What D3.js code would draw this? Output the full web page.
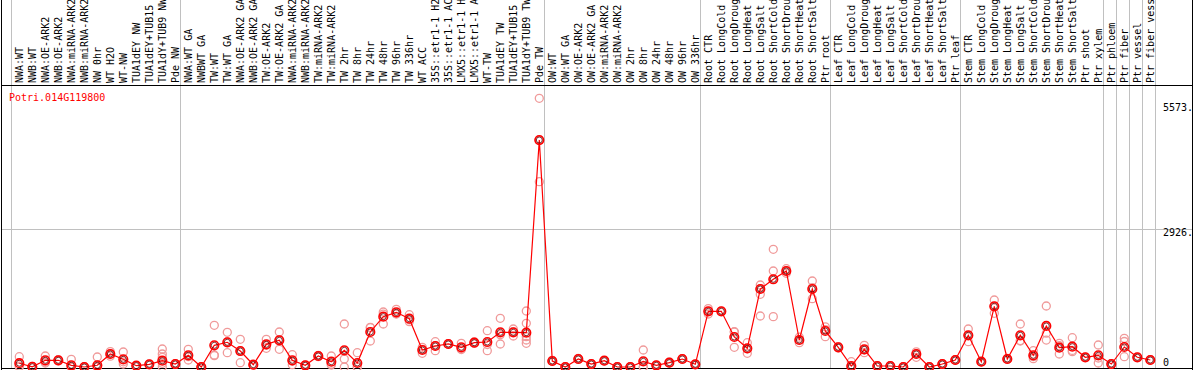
<!DOCTYPE html>
<html>
<head>
<meta charset="utf-8">
<script src="https://d3js.org/d3.v7.min.js"></script>
<style>
  body { margin: 0; background: #fff; }
  svg text { font-family: "DejaVu Sans Mono", monospace; font-size: 10px; }
</style>
</head>
<body>
<div class="container"></div>
<script>
const title = "Potri.014G119800";

const samples = [
  "NWA:WT", "NWB:WT", "NWA:OE-ARK2", "NWB:OE-ARK2", "NWA:miRNA-ARK2", "NWB:miRNA-ARK2",
  "NW 0hr", "WT H2O", "WT-NW", "TUA1dEY NW", "TUA1dEY+TUB15", "TUA1dY+TUB9 NW", "Pde NW",
  "NWA:WT GA", "NWBWT GA", "TW:WT", "TW:WT GA", "NWA:OE-ARK2 GA", "NWB:OE-ARK2 GA",
  "TW:OE-ARK2", "TW:OE-ARK2 GA", "NWA:miRNA-ARK2", "NWB:miRNA-ARK2", "TW:miRNA-ARK2",
  "TW:miRNA-ARK2", "TW 2hr", "TW 8hr", "TW 24hr", "TW 48hr", "TW 96hr", "TW 336hr", "WT ACC",
  "35S::etr1-1 H2O", "35S::etr1-1 ACC", "LMX5::etr1-1 H2O", "LMX5::etr1-1 ACC", "WT-TW",
  "TUA1dEY TW", "TUA1dEY+TUB15", "TUA1dY+TUB9 TW", "Pde TW",
  "OW:WT", "OW:WT GA", "OW:OE-ARK2", "OW:OE-ARK2 GA", "OW:miRNA-ARK2", "OW:miRNA-ARK2",
  "OW 2hr", "OW 8hr", "OW 24hr", "OW 48hr", "OW 96hr", "OW 336hr",
  "Root CTR", "Root LongCold", "Root LongDrought", "Root LongHeat", "Root LongSalt",
  "Root ShortCold", "Root ShortDrought", "Root ShortHeat", "Root ShortSalt", "Ptr root",
  "Leaf CTR", "Leaf LongCold", "Leaf LongDrought", "Leaf LongHeat", "Leaf LongSalt",
  "Leaf ShortCold", "Leaf ShortDrought", "Leaf ShortHeat", "Leaf ShortSalt", "Ptr leaf",
  "Stem CTR", "Stem LongCold", "Stem LongDrought", "Stem LongHeat", "Stem LongSalt",
  "Stem ShortCold", "Stem ShortDrought", "Stem ShortHeat", "Stem ShortSalt", "Ptr shoot",
  "Ptr xylem", "Ptr phloem", "Ptr fiber", "Ptr vessel", "Ptr fiber vessel"
];

// number of samples in each group (gray separators)
const groupSizes = [13, 28, 12, 10, 10, 11, 1, 1, 1, 1];

const means = [
  80, 5, 142, 142, 36, 0, 36, 275, 163, 28, 57, 133, 63,
  247, 0, 459, 523, 338, 49, 480, 565, 142, 36, 233, 112, 353, 85, 741, 1065, 1157, 1022,
  360, 444, 487, 417, 514, 529, 734, 734, 726, 4802,
  127, 0, 169, 63, 133, 0, 0, 120, 36, 91, 169, 57,
  1178, 1178, 635, 396, 1650, 1856, 2031, 571, 1650, 762,
  417, 21, 374, 21, 21, 0, 275, 0, 63, 148,
  671, 112, 1284, 169, 671, 247, 868, 409, 430, 205, 247,
  63, 423, 205, 148
];

const replicates = [
  [218, 20, 0], [0, 0, 15], [233, 85, 106], [150, 130, 145], [163, 0, 0], [0, 0, 0],
  [212, 0, 0], [325, 275, 230], [317, 63, 110], [30, 25, 30], [60, 55, 57],
  [381, 275, 205, 78, 6], [70, 60, 60],
  [374, 148, 220], [0, 0, 0], [882, 254, 240], [734, 303, 530], [586, 91, 338], [50, 45, 50],
  [586, 396, 460], [741, 374, 580], [260, 49, 120], [40, 30, 36], [233, 220, 245], [233, 42, 60],
  [910, 169, 0], [303, 0, 0], [832, 550, 840], [1164, 910, 1120], [1221, 1130, 1120],
  [1107, 1000, 960], [417, 290, 370], [535, 345, 450], [490, 480, 490], [501, 380, 370],
  [530, 510, 500], [768, 345, 475], [1030, 487, 685], [804, 656, 740],
  [1185, 925, 641, 571, 501], [5685, 4800, 3921],
  [140, 120, 120], [0, 0, 0], [180, 160, 170], [63, 60, 65], [133, 130, 135], [0, 0, 0],
  [0, 0, 0], [360, 0, 0], [36, 36, 36], [100, 85, 90], [175, 165, 170], [57, 57, 57],
  [1121, 1178, 1235], [1178, 1178, 1178], [747, 417, 740], [514, 290, 385],
  [1735, 1650, 1538, 1079], [2490, 2031, 1065], [2031, 1983, 2080], [514, 571, 630],
  [1820, 1445, 1680], [641, 790, 850],
  [430, 417, 405], [112, 0, 0], [459, 303, 360], [21, 21, 21], [21, 21, 21], [0, 0, 0],
  [320, 275, 205], [0, 0, 0], [63, 63, 63], [148, 148, 148],
  [804, 671, 535], [112, 112, 112], [1418, 1284, 1136], [180, 169, 160], [910, 550, 560],
  [345, 176, 220], [1291, 715, 570], [501, 275, 450], [620, 324, 350], [205, 205, 205],
  [465, 85, 190],
  [63, 63, 63], [607, 540, 218], [205, 205, 205], [148, 148, 148]
];

const tickValues = [5573, 2926, 0];
const tickLabels = ["5573.", "2926.", "0"];
const gridValues = [2926];

const w = 1194;
const h = 370;
const headerBottom = 85;
const plotBottom = 369;

const svg = d3.select(".container")
  .append("svg")
  .attr("width", w)
  .attr("height", h);

const xScale = d3.scaleBand()
  .domain(d3.range(samples.length))
  .range([11, 1155])
  .paddingInner(0)
  .paddingOuter(0);

const yScale = d3.scaleLinear()
  .domain([0, 2926])
  .range([367, 228.7]);

const cx = (i) => xScale(i) + 8.3;

// horizontal grid
svg.selectAll("line.grid")
  .data(gridValues)
  .enter()
  .append("line")
  .attr("class", "grid")
  .attr("x1", 1)
  .attr("x2", w - 1)
  .attr("y1", (d) => Math.round(yScale(d)) + 0.5)
  .attr("y2", (d) => Math.round(yScale(d)) + 0.5)
  .attr("stroke", "#c0c0c0")
  .attr("stroke-width", 1);

// group separators
let bounds = [0];
groupSizes.forEach((s) => bounds.push(bounds[bounds.length - 1] + s));
svg.selectAll("line.sep")
  .data(bounds)
  .enter()
  .append("line")
  .attr("class", "sep")
  .attr("x1", (d) => Math.round(d === samples.length ? 1155 : xScale(d)) + 0.5)
  .attr("x2", (d) => Math.round(d === samples.length ? 1155 : xScale(d)) + 0.5)
  .attr("y1", 0)
  .attr("y2", plotBottom)
  .attr("stroke", "#c0c0c0")
  .attr("stroke-width", 1);

// frame
svg.append("line").attr("x1", 1.5).attr("x2", 1.5).attr("y1", 0).attr("y2", plotBottom + 1)
  .attr("stroke", "#000");
svg.append("line").attr("x1", w - 1.5).attr("x2", w - 1.5).attr("y1", 0).attr("y2", plotBottom + 1)
  .attr("stroke", "#000");
svg.append("line").attr("x1", 1).attr("x2", w - 1).attr("y1", headerBottom + 0.5).attr("y2", headerBottom + 0.5)
  .attr("stroke", "#000");
svg.append("line").attr("x1", 1).attr("x2", w - 1).attr("y1", plotBottom - 0.5).attr("y2", plotBottom - 0.5)
  .attr("stroke", "#000");

// header labels
svg.selectAll("text.sample")
  .data(samples)
  .enter()
  .append("text")
  .attr("class", "sample")
  .attr("transform", (d, i) => "translate(" + (cx(i) + 3.6) + "," + 83 + ") rotate(-90)")
  .attr("fill", "#000")
  .text((d) => d);

// title
svg.append("text")
  .attr("x", 9)
  .attr("y", 101)
  .attr("fill", "#ff0000")
  .text(title);

// y labels on the right
svg.selectAll("text.tick")
  .data(tickValues)
  .enter()
  .append("text")
  .attr("class", "tick")
  .attr("x", 1163)
  .attr("y", (d) => Math.min(yScale(d) + 7.5, 365.5))
  .attr("fill", "#000")
  .text((d, i) => tickLabels[i]);

// replicate circles
const reps = [];
replicates.forEach((r, i) => r.forEach((v) => reps.push([i, v])));
svg.selectAll("circle.rep")
  .data(reps)
  .enter()
  .append("circle")
  .attr("class", "rep")
  .attr("cx", (d) => cx(d[0]))
  .attr("cy", (d) => yScale(d[1]))
  .attr("r", 4)
  .attr("fill", "none")
  .attr("stroke", "#f09a9a")
  .attr("stroke-width", 1.3);

// mean line
const line = d3.line()
  .x((d, i) => cx(i))
  .y((d) => yScale(d));
svg.append("path")
  .datum(means)
  .attr("d", line)
  .attr("fill", "none")
  .attr("stroke", "#ff0000")
  .attr("stroke-width", 1.2);

// mean circles
svg.selectAll("circle.mean")
  .data(means)
  .enter()
  .append("circle")
  .attr("class", "mean")
  .attr("cx", (d, i) => cx(i))
  .attr("cy", (d) => yScale(d))
  .attr("r", 4.3)
  .attr("fill", "none")
  .attr("stroke", "#ff0000")
  .attr("stroke-width", 1.6);
svg.selectAll("circle.meanin")
  .data(means)
  .enter()
  .append("circle")
  .attr("class", "meanin")
  .attr("cx", (d, i) => cx(i))
  .attr("cy", (d) => yScale(d))
  .attr("r", 3)
  .attr("fill", "none")
  .attr("stroke", "#600000")
  .attr("stroke-width", 0.8);
</script>
</body>
</html>
